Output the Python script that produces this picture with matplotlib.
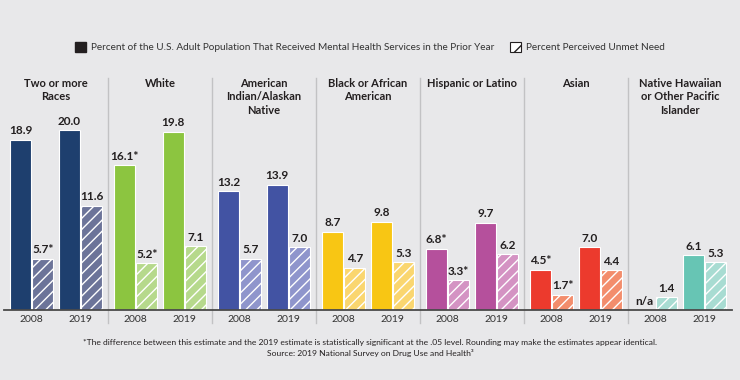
import numpy as np
import matplotlib
matplotlib.use("Agg")
import matplotlib.pyplot as plt
from matplotlib.patches import Patch

# Data
groups = ["Two or more\nRaces", "White", "American\nIndian/Alaskan\nNative",
          "Black or African\nAmerican", "Hispanic or Latino", "Asian",
          "Native Hawaiian\nor Other Pacific\nIslander"]
years = ["2008", "2019"]
received_2008 = [18.9, 16.1, 13.2, 8.7, 6.8, 4.5, np.nan]
received_2019 = [20.0, 19.8, 13.9, 9.8, 9.7, 7.0, 6.1]
unmet_2008 = [5.7, 5.2, 5.7, 4.7, 3.3, 1.7, 1.4]
unmet_2019 = [11.6, 7.1, 7.0, 5.3, 6.2, 4.4, 5.3]
received_2008_sig = [False, True, False, False, True, True, False]
unmet_2008_sig = [True, True, False, False, True, True, False]

solid_colors = ["#1e3f6e", "#8cc540", "#4253a3", "#f8c614", "#b5509c", "#ec3a2d", "#67c5b4"]
hatch_colors = ["#6c7499", "#b6d98c", "#8f95cc", "#fad66f", "#d493c3", "#f38d6c", "#a8dcd2"]

BG = "#e8e8ea"
DARK = "#231f20"
plt.rcParams["font.family"] = ["Lato", "DejaVu Sans"]
plt.rcParams["hatch.linewidth"] = 1.0

fig = plt.figure(figsize=(7.4, 3.8), dpi=100, facecolor=BG)
W, H = 740, 380
ax = fig.add_axes([4 / W, (H - 310) / H, 728 / W, (310 - 78) / H])
ax.set_facecolor(BG)
ax.set_xlim(-0.5, len(groups) - 0.5)
ax.set_ylim(0, 232 / 9)
for s in ax.spines.values():
    s.set_visible(False)
ax.set_xticks([])
ax.set_yticks([])

x = np.arange(len(groups))
pair = 0.235
off = 0.107
bw = 0.205

def label(xpos, val, sig):
    txt = f"{val:.1f}" + ("*" if sig else "")
    ax.annotate(txt, (xpos, val), xytext=(0, 2.5), textcoords="offset points",
                ha="center", va="bottom", fontsize=8.5, fontweight="bold", color=DARK)

for i in range(len(groups)):
    r08 = received_2008[i]
    if np.isnan(r08):
        ax.text(x[i] - pair - off, 0.3, "n/a", ha="center", va="bottom",
                fontsize=8.5, fontweight="bold", color=DARK)
    else:
        ax.bar(x[i] - pair - off, r08, bw, color=solid_colors[i], edgecolor="white", linewidth=0.8)
        label(x[i] - pair - off, r08, received_2008_sig[i])
    ax.bar(x[i] - pair + off, unmet_2008[i], bw, color=hatch_colors[i], edgecolor="white",
           linewidth=0.8, hatch="///")
    label(x[i] - pair + off, unmet_2008[i], unmet_2008_sig[i])
    ax.bar(x[i] + pair - off, received_2019[i], bw, color=solid_colors[i], edgecolor="white", linewidth=0.8)
    label(x[i] + pair - off, received_2019[i], False)
    ax.bar(x[i] + pair + off, unmet_2019[i], bw, color=hatch_colors[i], edgecolor="white",
           linewidth=0.8, hatch="///")
    label(x[i] + pair + off, unmet_2019[i], False)

    # year labels under each pair
    for j, yr in enumerate(years):
        ax.text(x[i] + (2 * j - 1) * pair, -1.0, yr, ha="center", va="center",
                fontsize=7.5, color="#333333")
    # group title
    ax.text(x[i], 1.0, groups[i], transform=ax.get_xaxis_transform(), ha="center", va="top",
            fontsize=8, fontweight="bold", color=DARK, linespacing=1.25)

# panel separators
for i in range(len(groups) - 1):
    ax.axvline(i + 0.5, ymin=-13 / 232, ymax=1.0, color="#c2c2c4", linewidth=1, clip_on=False)

ax.axhline(0, color="#4a4a4a", linewidth=1.3, clip_on=False)

handles = [Patch(facecolor=DARK, edgecolor=DARK),
           Patch(facecolor="white", edgecolor=DARK, hatch="/", linewidth=0.8)]
fig.legend(handles, ["Percent of the U.S. Adult Population That Received Mental Health Services in the Prior Year",
                     "Percent Perceived Unmet Need"],
           loc="center", bbox_to_anchor=(0.5, 1 - 47 / H), ncol=2, frameon=False,
           fontsize=7.2, handlelength=1.1, handleheight=1.1, handletextpad=0.5,
           columnspacing=1.6, labelcolor="#333333")

fig.text(0.5, 1 - 342 / H,
         "*The difference between this estimate and the 2019 estimate is statistically significant at the .05 level. "
         "Rounding may make the estimates appear identical.",
         ha="center", va="center", fontsize=6.1, color=DARK)
fig.text(0.5, 1 - 353 / H, "Source: 2019 National Survey on Drug Use and Health\u00b3",
         ha="center", va="center", fontsize=6.1, color=DARK)

fig.savefig("out.png", dpi=100, facecolor=BG)
